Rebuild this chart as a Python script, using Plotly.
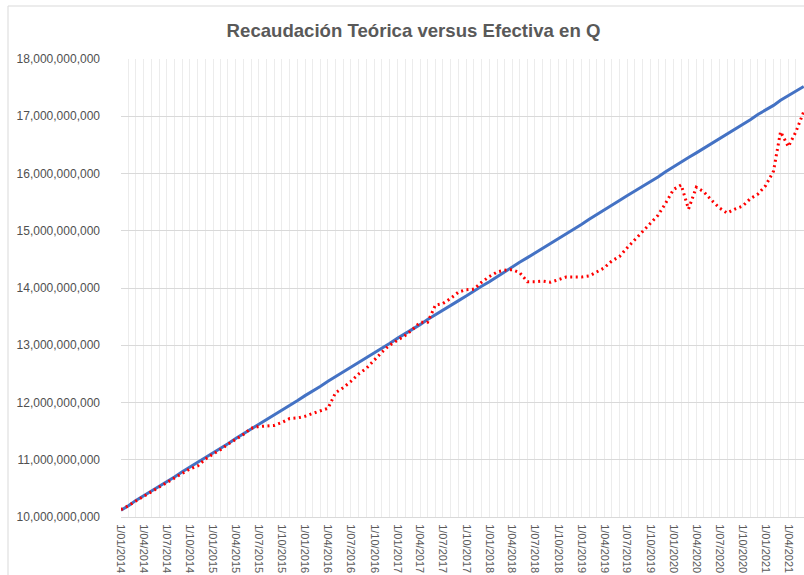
import pandas as pd
import plotly.graph_objects as go

# Monthly categories (first day of each month)
months = pd.date_range("2014-01-01", periods=90, freq="MS")

# Values in billions of Quetzales
teorica_bn = [
    10.12, 10.20, 10.29, 10.37, 10.45, 10.54, 10.62, 10.70, 10.79, 10.87,
    10.95, 11.04, 11.12, 11.20, 11.28, 11.37, 11.45, 11.53, 11.62, 11.70,
    11.78, 11.87, 11.95, 12.03, 12.12, 12.20, 12.28, 12.37, 12.45, 12.53,
    12.62, 12.70, 12.78, 12.87, 12.95, 13.03, 13.12, 13.20, 13.28, 13.36,
    13.45, 13.53, 13.61, 13.70, 13.78, 13.86, 13.95, 14.03, 14.11, 14.20,
    14.28, 14.36, 14.45, 14.53, 14.61, 14.70, 14.78, 14.86, 14.95, 15.03,
    15.11, 15.20, 15.28, 15.36, 15.44, 15.53, 15.61, 15.69, 15.78, 15.86,
    15.94, 16.03, 16.11, 16.19, 16.28, 16.36, 16.44, 16.53, 16.61, 16.69,
    16.78, 16.86, 16.94, 17.03, 17.11, 17.19, 17.28, 17.36, 17.44, 17.52,
]

efectiva_bn = [
    10.13, 10.20, 10.28, 10.36, 10.44, 10.52, 10.61, 10.69, 10.77, 10.84,
    10.89, 11.01, 11.10, 11.18, 11.27, 11.36, 11.44, 11.55, 11.58, 11.59,
    11.60, 11.65, 11.72, 11.73, 11.76, 11.81, 11.85, 11.90, 12.17, 12.26,
    12.37, 12.50, 12.60, 12.74, 12.88, 13.00, 13.08, 13.17, 13.27, 13.40,
    13.40, 13.70, 13.73, 13.82, 13.93, 13.97, 13.98, 14.10, 14.20, 14.28,
    14.31, 14.32, 14.27, 14.11, 14.11, 14.12, 14.10, 14.15, 14.19, 14.19,
    14.19, 14.21, 14.27, 14.35, 14.47, 14.55, 14.70, 14.84, 14.98, 15.12,
    15.27, 15.48, 15.72, 15.80, 15.38, 15.76, 15.68, 15.53, 15.40, 15.31,
    15.38, 15.43, 15.56, 15.64, 15.79, 16.04, 16.73, 16.47, 16.73, 17.08,
]

BILLION = 1e9
teorica = [v * BILLION for v in teorica_bn]
efectiva = [v * BILLION for v in efectiva_bn]

title_text = "Recaudación Teórica versus Efectiva en Q"

W, H = 804, 575
ML, MR, MT, MB = 121, 0, 59, 58
PW = W - ML - MR
PH = H - MT - MB

fig = go.Figure()
fig.add_trace(go.Scatter(
    x=months, y=teorica, mode="lines", name="Teórica",
    line=dict(color="#4472C4", width=3), showlegend=False,
))
fig.add_trace(go.Scatter(
    x=months, y=efectiva, mode="lines", name="Efectiva",
    line=dict(color="#FF0000", width=3, dash="2px,3.5px"), showlegend=False,
))

ylab_font = dict(family="Liberation Sans, Arial, sans-serif", size=12, color="#505050")
xlab_font = dict(family="Liberation Sans, Arial, sans-serif", size=11, color="#595959")

fig.update_layout(
    template="none",
    width=W, height=H,
    margin=dict(l=ML, r=MR, t=MT, b=MB, pad=0, autoexpand=False),
    paper_bgcolor="white", plot_bgcolor="white",
    title=dict(
        text="<b>" + title_text + "</b>",
        font=dict(family="Liberation Sans, Arial, sans-serif", size=18.6, color="#595959"),
        xref="paper", x=(413.5 - ML) / PW, xanchor="center",
        yref="container", y=1 - 30 / H, yanchor="middle",
    ),
    xaxis=dict(
        type="date",
        automargin=False,
        range=["2014-01-01", "2021-06-02"],
        tick0="2014-01-01", dtick="M3",
        tickformat="%-d/%m/%Y",
        tickangle=90,
        tickfont=xlab_font,
        ticks="", ticklabelstandoff=4,
        showgrid=True, gridcolor="#ececec", gridwidth=1,
        minor=dict(dtick="M1", tick0="2014-01-01", showgrid=True,
                   gridcolor="#ececec", gridwidth=1),
        showline=True, linecolor="#d9d9d9", linewidth=1,
        zeroline=False, fixedrange=True,
    ),
    yaxis=dict(
        automargin=False,
        range=[10 * BILLION, 18 * BILLION],
        dtick=BILLION, tick0=10 * BILLION,
        tickformat=",.0f",
        tickfont=ylab_font,
        ticks="", ticklabelstandoff=20,
        showgrid=True, gridcolor="#d9d9d9", gridwidth=1,
        showline=False, zeroline=False, fixedrange=True,
    ),
    shapes=[dict(
        type="rect", xref="paper", yref="paper",
        x0=(8 - ML) / PW, x1=1.05,
        y0=-0.5, y1=1 + (MT - 6) / PH,
        line=dict(color="#d9d9d9", width=1), fillcolor="rgba(0,0,0,0)", layer="below",
    )],
)

fig.write_html(
    "out.html",
    config={"displayModeBar": False, "staticPlot": True},
    post_script="document.body.style.margin='0';document.body.style.overflow='hidden';",
)
